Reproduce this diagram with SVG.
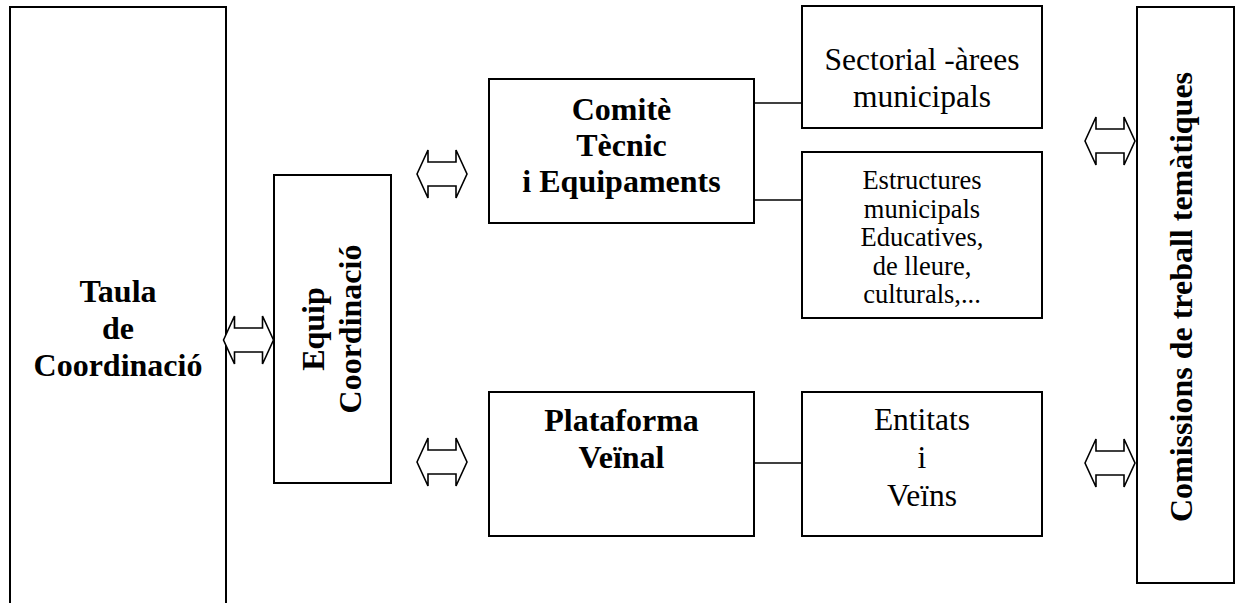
<svg xmlns="http://www.w3.org/2000/svg" width="1235" height="603" viewBox="0 0 1235 603">
<style>
.box{fill:#fff;stroke:#000;stroke-width:2}
.b{font-family:"Liberation Serif","Times New Roman",serif;font-weight:bold;font-size:32px;text-anchor:middle;fill:#000}
.r{font-family:"Liberation Serif","Times New Roman",serif;font-size:31.5px;text-anchor:middle;fill:#000}
.s{font-family:"Liberation Serif","Times New Roman",serif;font-size:26.5px;text-anchor:middle;fill:#000}
.ln{stroke:#000;stroke-width:1.6;fill:none}
.arr{fill:#fff;stroke:#000;stroke-width:1.6;stroke-linejoin:miter}
</style>
<defs>
<path id="dbl" d="M-25,0 L-14,-24 L-14,-12 L14,-12 L14,-24 L25,0 L14,24 L14,12 L-14,12 L-14,24 Z"/>
</defs>
<rect width="1235" height="603" fill="#fff"/>
<g id="taula">
<rect class="box" x="10" y="7" width="216" height="610"/>
<text class="b" x="118" y="302">Taula</text>
<text class="b" x="118" y="339">de</text>
<text class="b" x="118" y="376">Coordinació</text>
</g>
<g id="equip">
<rect class="box" x="274" y="175" width="117" height="308"/>
<text class="b" transform="translate(324,329) rotate(-90)">Equip</text>
<text class="b" transform="translate(361,329) rotate(-90)">Coordinació</text>
</g>
<g id="comite">
<rect class="box" x="489" y="79" width="265" height="144"/>
<text class="b" x="621.5" y="120">Comitè</text>
<text class="b" x="621.5" y="156">Tècnic</text>
<text class="b" x="621.5" y="192">i Equipaments</text>
</g>
<g id="sectorial">
<rect class="box" x="802" y="6" width="240" height="122"/>
<text class="r" x="922" y="70">Sectorial -àrees</text>
<text class="r" x="922" y="107">municipals</text>
</g>
<g id="estructures">
<rect class="box" x="802" y="152" width="240" height="166"/>
<text class="s" x="922" y="189">Estructures</text>
<text class="s" x="922" y="217.5">municipals</text>
<text class="s" x="922" y="246">Educatives,</text>
<text class="s" x="922" y="274.5">de lleure,</text>
<text class="s" x="922" y="303">culturals,...</text>
</g>
<g id="plataforma">
<rect class="box" x="489" y="392" width="265" height="144"/>
<text class="b" x="621.5" y="431">Plataforma</text>
<text class="b" x="621.5" y="468">Veïnal</text>
</g>
<g id="entitats">
<rect class="box" x="802" y="392" width="240" height="144"/>
<text class="r" x="922" y="430">Entitats</text>
<text class="r" x="922" y="468">i</text>
<text class="r" x="922" y="506">Veïns</text>
</g>
<g id="comissions">
<rect class="box" x="1137" y="7" width="97" height="576"/>
<text class="b" transform="translate(1192,297) rotate(-90)">Comissions de treball temàtiques</text>
</g>
<g id="connectors">
<line class="ln" x1="754" y1="103" x2="802" y2="103"/>
<line class="ln" x1="754" y1="200" x2="802" y2="200"/>
<line class="ln" x1="754" y1="463" x2="802" y2="463"/>
<use href="#dbl" class="arr" transform="translate(248.5,340)"/>
<use href="#dbl" class="arr" transform="translate(442,174)"/>
<use href="#dbl" class="arr" transform="translate(442,462)"/>
<use href="#dbl" class="arr" transform="translate(1110,141)"/>
<use href="#dbl" class="arr" transform="translate(1110,463)"/>
</g>
</svg>
